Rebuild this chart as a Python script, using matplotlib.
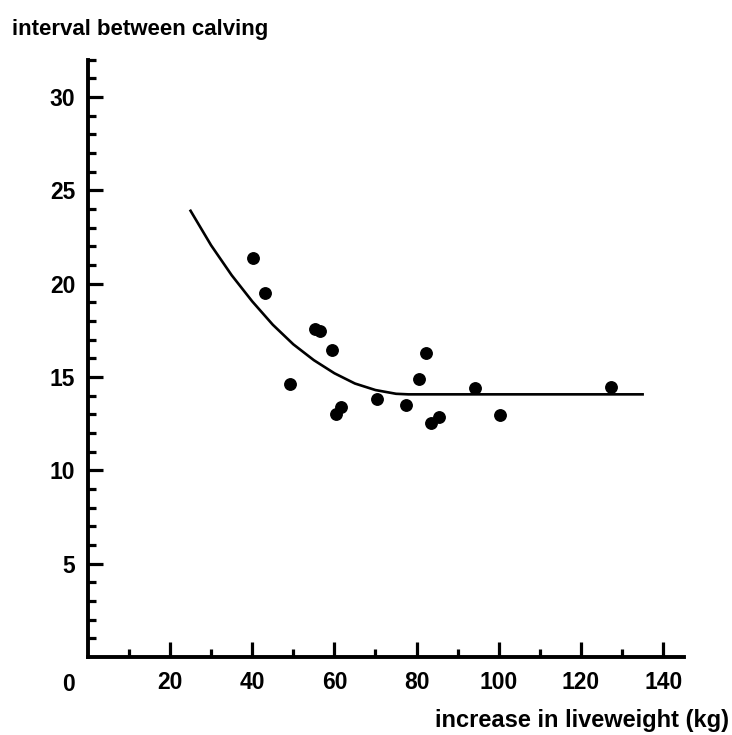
import numpy as np
import matplotlib
matplotlib.use("Agg")
import matplotlib.pyplot as plt

plt.rcParams["font.family"] = ["Liberation Sans", "DejaVu Sans"]
plt.rcParams["font.weight"] = "bold"

# weight gain (kg) and calving interval (months)
gain = [40.1, 43.2, 49.3, 55.2, 56.4, 59.4, 60.3, 61.5, 70.4, 77.5,
        80.5, 82.4, 83.4, 85.4, 94.3, 100.3, 127.2]
interval = [21.35, 19.5, 14.6, 17.55, 17.45, 16.45, 13.0, 13.4, 13.8, 13.5,
            14.9, 16.3, 12.55, 12.85, 14.4, 12.95, 14.45]

# fitted curve
curve_x = [25, 30, 35, 40, 45, 50, 55, 60, 65, 70, 75, 78, 135]
curve_y = [23.9, 22.05, 20.45, 19.05, 17.8, 16.75, 15.9, 15.2, 14.65, 14.3,
           14.1, 14.07, 14.07]

fig = plt.figure(figsize=(7.32, 7.35), dpi=100)
ax = fig.add_axes([0.120, 0.106, 0.814, 0.813])

ax.plot(curve_x, curve_y, color="black", lw=1.9)
ax.scatter(gain, interval, s=68, color="black", zorder=3)

ax.set_xlim(0, 145)
ax.set_ylim(0, 32)
for side in ["top", "right"]:
    ax.spines[side].set_visible(False)
for side in ["left", "bottom"]:
    ax.spines[side].set_linewidth(2.8)

ax.set_xticks(np.arange(20, 141, 20))
ax.set_xticks(np.arange(10, 141, 20), minor=True)
ax.set_yticks(np.arange(5, 31, 5))
ax.set_yticks(np.arange(1, 33, 1), minor=True)
ax.tick_params(which="both", direction="in", width=2.3, labelsize=16.5)
ax.tick_params(which="major", length=11)
ax.tick_params(which="minor", length=6)
ax.tick_params(axis="x", pad=10)
ax.tick_params(axis="y", pad=9)
for lab in ax.get_xticklabels() + ax.get_yticklabels():
    lab.set_fontweight("bold")

ax.annotate("0", xy=(0, 0), xytext=(-14, -20), textcoords="offset points",
            ha="center", va="center", fontsize=16.5, fontweight="bold")

fig.text(12 / 732, 1 - 30 / 735, "interval between calving",
         ha="left", va="center", fontsize=16, fontweight="bold")
fig.text(729 / 732, 1 - 720 / 735, "increase in liveweight (kg)",
         ha="right", va="center", fontsize=17, fontweight="bold")

fig.savefig("out.png", dpi=100)
